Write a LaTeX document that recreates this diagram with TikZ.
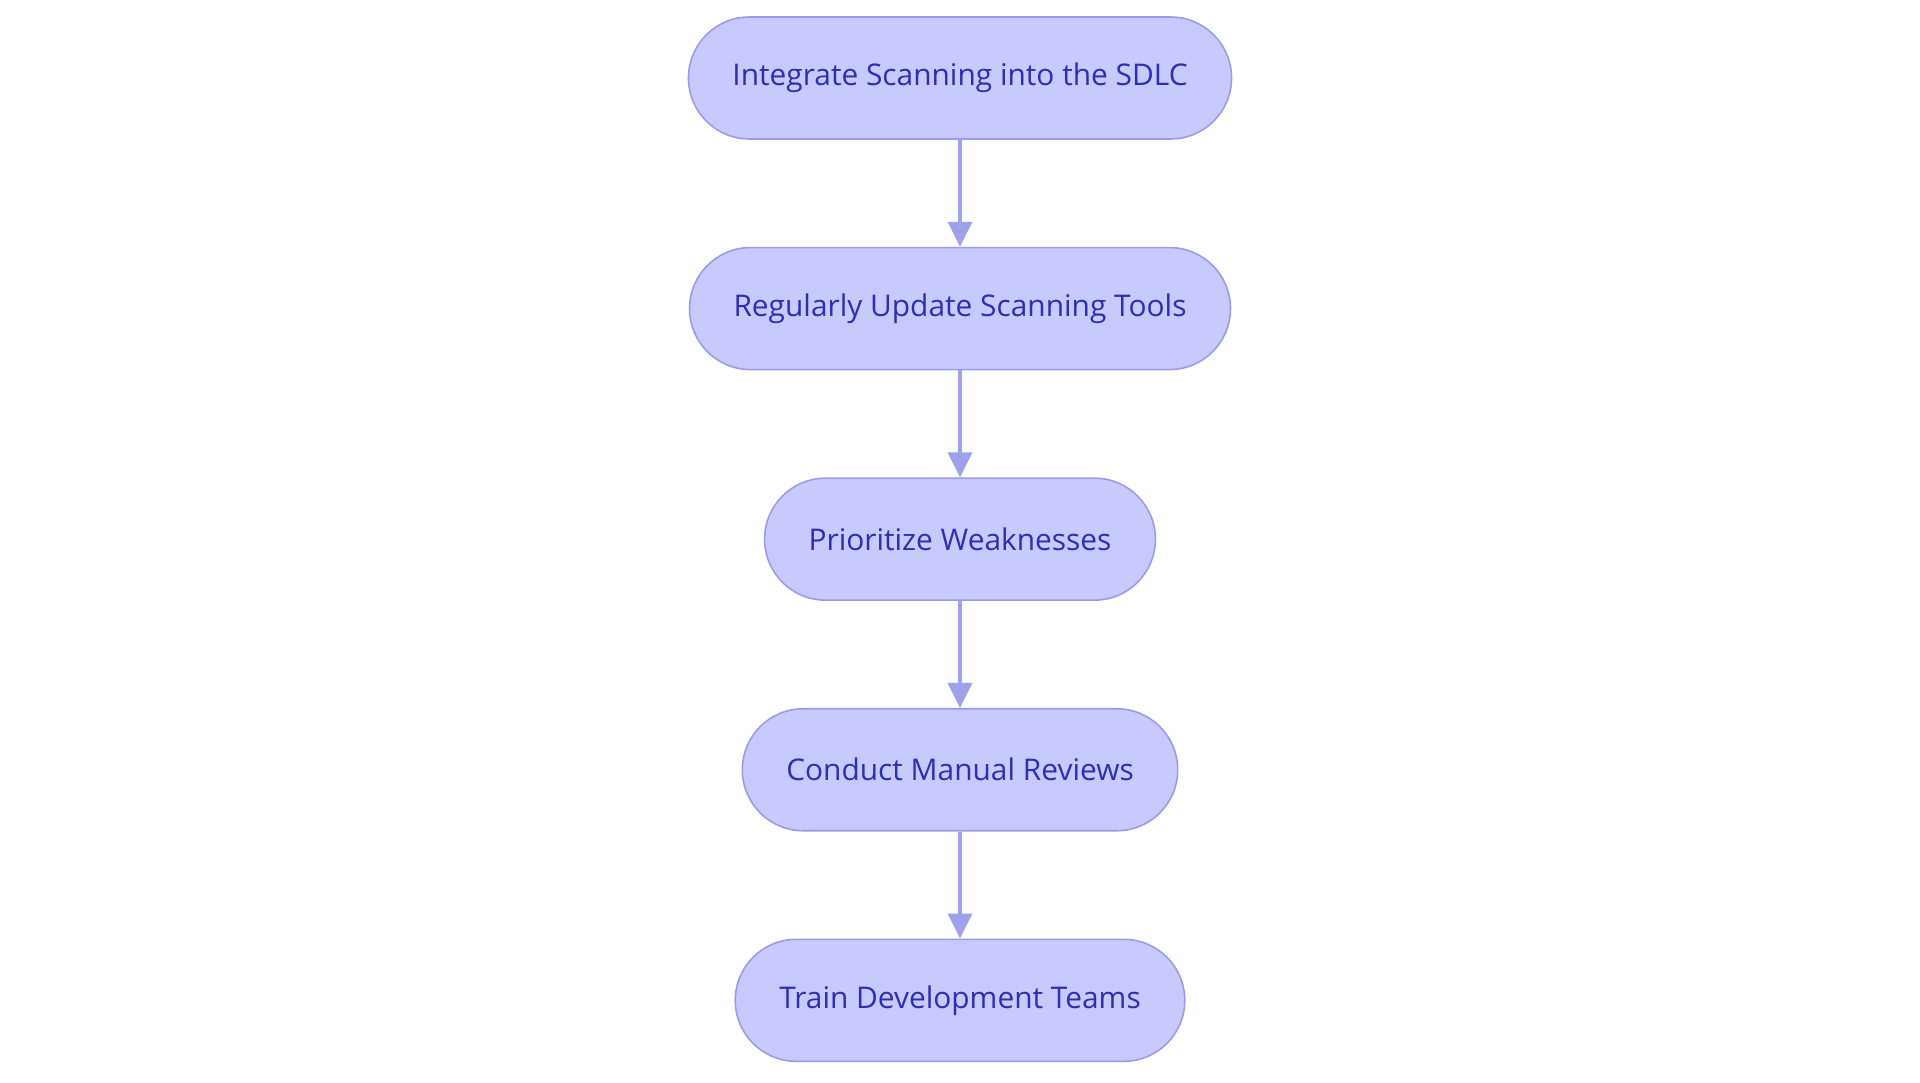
\documentclass[tikz,border=0pt]{standalone}
\usepackage{fontspec}
\setmainfont{Open Sans}
\usetikzlibrary{positioning,arrows.meta}
\definecolor{stepfill}{HTML}{C8CAFE}
\definecolor{stepline}{HTML}{989CE8}
\definecolor{steptext}{HTML}{2B2FB3}
\definecolor{arrowline}{HTML}{9EA1EC}
\tikzset{%
  % Specifications for style of nodes:
    base/.style = {rectangle, rounded corners=1.22cm, draw=stepline,
                   line width=0.9pt, fill=stepfill,
                   minimum height=2.44cm, inner xsep=0.88cm,
                   text centered, text=steptext,
                   font=\fontsize{17}{20}\selectfont},
    stepbox/.style = {base},
    flow/.style = {draw=arrowline, line width=2pt,
                   -{Triangle[width=0.48cm,length=0.5cm]}}
}
\begin{document}
\begin{tikzpicture}[node distance=2.14cm]
\useasboundingbox (0,0) rectangle (38.4,-21.66);

\node[stepbox] (integrate) at (19.2,-1.56) {Integrate Scanning into the SDLC};
\node[stepbox, below=of integrate] (update) {Regularly Update Scanning Tools};
\node[stepbox, below=of update] (prioritize) {Prioritize Weaknesses};
\node[stepbox, below=of prioritize] (review) {Conduct Manual Reviews};
\node[stepbox, below=of review] (train) {Train Development Teams};

\draw[flow] (integrate) -- (update);
\draw[flow] (update) -- (prioritize);
\draw[flow] (prioritize) -- (review);
\draw[flow] (review) -- (train);

\end{tikzpicture}
\end{document}
